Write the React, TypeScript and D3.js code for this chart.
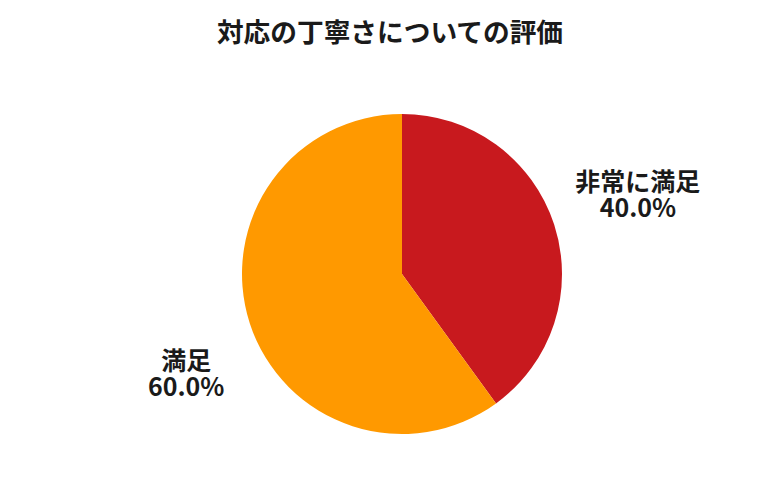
import React from "react";
import * as d3 from "d3";

const title = "対応の丁寧さについての評価";
const categories = ["非常に満足", "満足"];
const values = [40.0, 60.0];
const colors = ["#C8191E", "#FF9900"];

const W = 780;
const H = 500;
const CX = 402;
const CY = 274;
const R = 160;
const LABEL_R = 248;
const LABEL_NUDGE: [number, number][] = [[0, 0], [20, 25]];
const FONT = "'Noto Sans CJK JP', 'Noto Sans', sans-serif";

export default function App() {
  const total = d3.sum(values);
  const pie = d3.pie<number>().sort(null).value((d) => d);
  const arcs = pie(values);
  const arc = d3.arc<d3.PieArcDatum<number>>().innerRadius(0).outerRadius(R);
  const labelArc = d3.arc<d3.PieArcDatum<number>>().innerRadius(LABEL_R).outerRadius(LABEL_R);

  return (
    <svg width={W} height={H} style={{ position: "absolute", left: 0, top: 0, background: "#fff" }}>
      <text x={390} y={42} textAnchor="middle" fontFamily={FONT} fontWeight="bold" fontSize={26.7} fill="#1a1a1a">
        {title}
      </text>
      <g transform={`translate(${CX},${CY})`}>
        {arcs.map((a, i) => (
          <path key={i} d={arc(a) || ""} fill={colors[i]} />
        ))}
        {arcs.map((a, i) => {
          const [x, y] = labelArc.centroid(a);
          const lx = x + LABEL_NUDGE[i][0];
          const ly = y + LABEL_NUDGE[i][1];
          const pct = ((values[i] / total) * 100).toFixed(1) + "%";
          return (
            <text key={i} x={lx} y={ly} textAnchor="middle" fontFamily={FONT} fontWeight="bold" fontSize={25} fill="#1a1a1a">
              <tspan x={lx} dy={-6}>{categories[i]}</tspan>
              <tspan x={lx} dy={26}>{pct}</tspan>
            </text>
          );
        })}
      </g>
    </svg>
  );
}
